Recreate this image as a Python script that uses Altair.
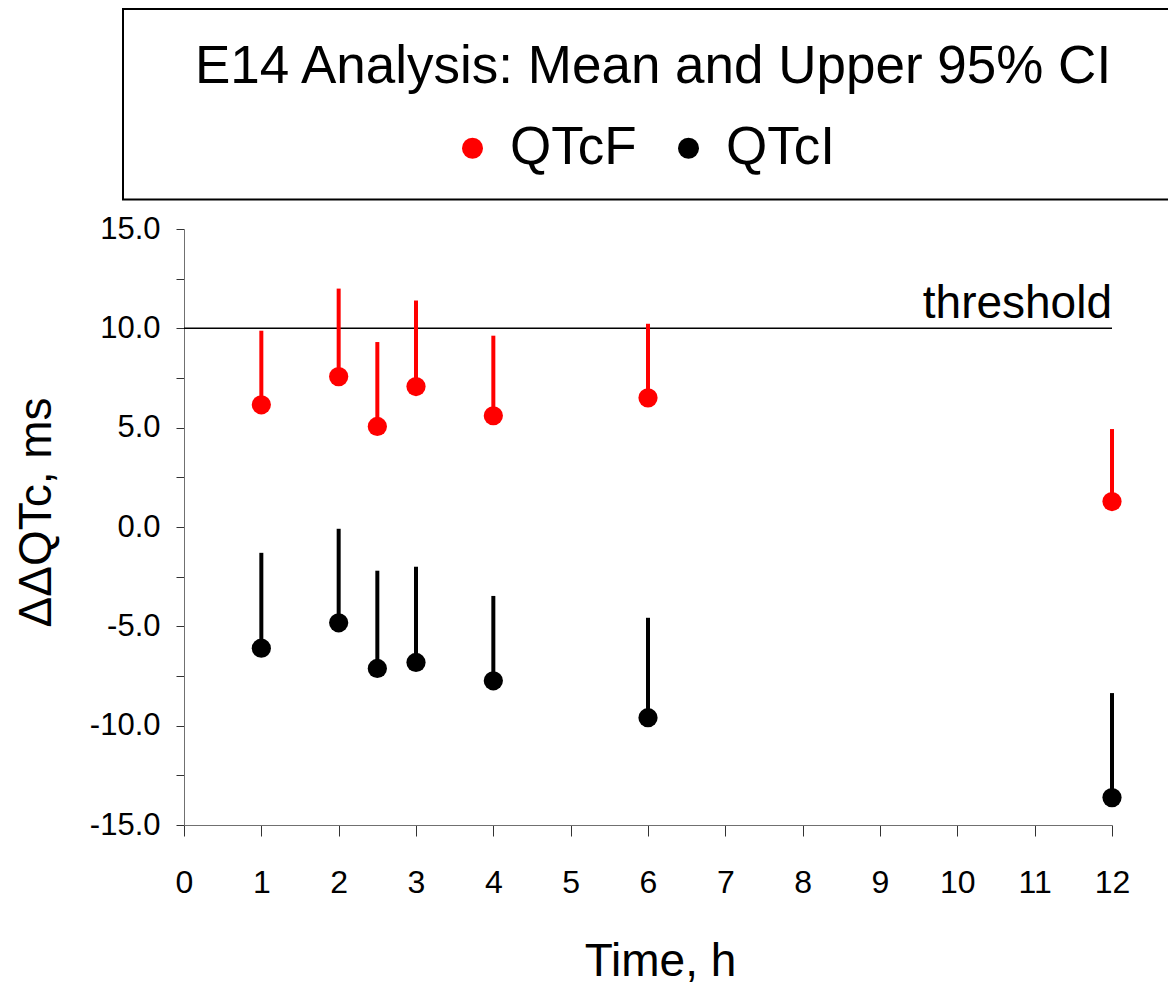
import altair as alt
import pandas as pd

# ---- data ----
times = [1, 2, 2.5, 3, 4, 6, 12]
qtcf_mean = [6.15, 7.57, 5.06, 7.07, 5.6, 6.5, 1.28]
qtcf_upper = [9.88, 12.0, 9.31, 11.4, 9.63, 10.23, 4.93]
qtci_mean = [-6.1, -4.82, -7.12, -6.82, -7.74, -9.6, -13.62]
qtci_upper = [-1.3, -0.09, -2.2, -2.0, -3.47, -4.57, -8.36]
series_names = ["QTcF", "QTcI"]
series_colors = ["#ff0000", "#000000"]
threshold_value = [10]
x_ticks = list(range(0, 13))
y_ticks = [-15, -12.5, -10, -7.5, -5, -2.5, 0, 2.5, 5, 7.5, 10, 12.5, 15]
chart_title = ["E14 Analysis: Mean and Upper 95% CI"]

FONT = "Liberation Sans"

rows = []
for t, m, u in zip(times, qtcf_mean, qtcf_upper):
    rows.append({"time": t, "mean": m, "upper": u, "series": "QTcF"})
for t, m, u in zip(times, qtci_mean, qtci_upper):
    rows.append({"time": t, "mean": m, "upper": u, "series": "QTcI"})
df = pd.DataFrame(rows)

thr_df = pd.DataFrame({"y": threshold_value, "x0": [0], "x1": [12], "label": ["threshold"]})
title_df = pd.DataFrame({"t": chart_title})

xscale = alt.Scale(domain=[0, 12], nice=False, zero=False)
yscale = alt.Scale(domain=[-15, 15], nice=False, zero=False)

x_axis = alt.Axis(
    values=x_ticks, title="Time, h", labelFontSize=32, titleFontSize=46,
    tickSize=11, labelPadding=31, grid=False, labelFlush=False, labelOverlap=False,
    domainColor="#707070", tickColor="#333333", labelColor="black", titleColor="black",
    titleFontWeight="normal", titleX=476, titleY=150, titleBaseline="alphabetic",
    titleAlign="center", format="d",
)
y_axis = alt.Axis(
    values=y_ticks, title="ΔΔQTc, ms", labelFontSize=31, titleFontSize=46,
    tickSize=8, labelPadding=16, grid=False, labelFlush=False, labelOverlap=False,
    domainColor="#707070", tickColor="#333333", labelColor="black", titleColor="black",
    titleFontWeight="normal", titleX=-134, titleY=283, titleAngle=-90,
    titleBaseline="alphabetic", titleAlign="center",
    labelExpr="datum.value % 5 === 0 ? (datum.value < 0 ? '-' + format(-datum.value, '.1f') : format(datum.value, '.1f')) : ''",
)

base = alt.Chart(df)

rule_layers = []
for name, col in zip(series_names, series_colors):
    rule_layers.append(
        base.transform_filter(alt.datum.series == name).mark_rule(strokeWidth=4, color=col).encode(
            x=alt.X("time:Q", scale=xscale, axis=x_axis),
            y=alt.Y("mean:Q", scale=yscale, axis=y_axis),
            y2="upper:Q",
        )
    )

points = base.mark_circle(size=370, opacity=1).encode(
    x=alt.X("time:Q", scale=xscale, axis=x_axis),
    y=alt.Y("mean:Q", scale=yscale, axis=y_axis),
    color=alt.Color(
        "series:N",
        scale=alt.Scale(domain=series_names, range=series_colors),
        legend=alt.Legend(
            title=None, orient="none", legendX=262, legendY=-107.5,
            direction="horizontal", labelFontSize=53, labelFont=FONT, labelColor="black",
            symbolSize=441, symbolType="circle", labelOffset=11, columnPadding=25,
            padding=0, symbolOpacity=1, symbolStrokeWidth=0, labelLimit=400,
        ),
    ),
)

thr_line = alt.Chart(thr_df).mark_rule(color="black", strokeWidth=1.5).encode(
    x=alt.X("x0:Q", scale=xscale), x2="x1:Q", y=alt.Y("y:Q", scale=yscale)
)
thr_text = alt.Chart(thr_df).mark_text(
    align="right", baseline="alphabetic", dy=-10, fontSize=46, font=FONT, color="black"
).encode(x=alt.X("x1:Q", scale=xscale), y=alt.Y("y:Q", scale=yscale), text="label:N")

box = alt.Chart(title_df).mark_rect(fill="white", fillOpacity=0, stroke="black", strokeWidth=2).encode(
    x=alt.value(-61), x2=alt.value(1100), y=alt.value(-220), y2=alt.value(-29.5)
)
title_text = alt.Chart(title_df).mark_text(
    align="center", baseline="alphabetic", fontSize=53, font=FONT, color="black"
).encode(x=alt.value(469), y=alt.value(-145.7), text="t:N")

chart = alt.layer(box, title_text, thr_line, thr_text, *rule_layers, points).properties(
    width=928, height=596,
    padding={"left": 176, "top": 221, "right": 56, "bottom": 164},
    autosize=alt.AutoSizeParams(type="none"),
).configure(font=FONT).configure_view(stroke=None)

chart.save("out.html", embed_options={"renderer": "svg", "actions": False})
